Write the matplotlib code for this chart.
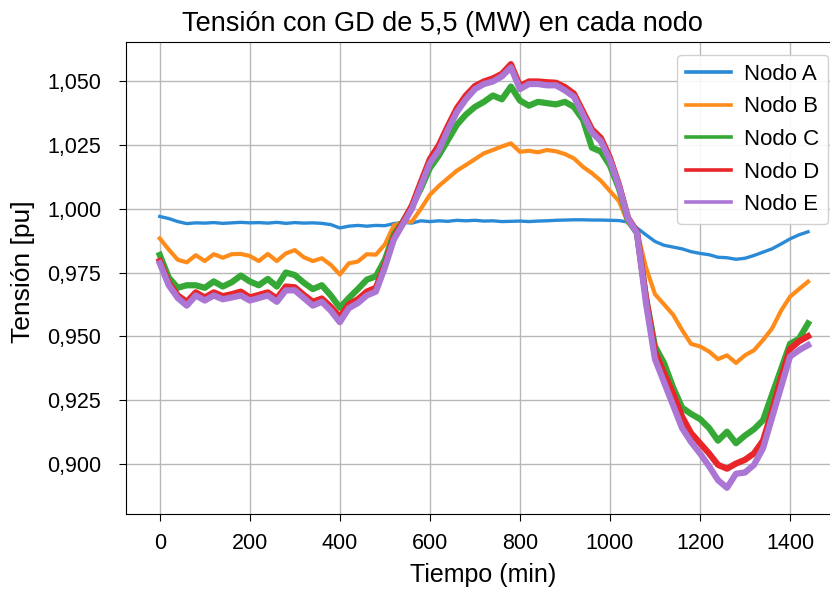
import numpy as np
import matplotlib
matplotlib.use("Agg")
import matplotlib.pyplot as plt
from matplotlib.ticker import FuncFormatter

plt.rcParams["font.family"] = ["Liberation Sans", "DejaVu Sans"]

# sampling grid, minutes
minutes = np.arange(0, 1441, 20)

nodo_a = [
    0.9970, 0.9962, 0.9950, 0.9942, 0.9945, 0.9944, 0.9946, 0.9943, 0.9945, 0.9947,
    0.9945, 0.9946, 0.9944, 0.9947, 0.9943, 0.9946, 0.9944, 0.9945, 0.9943, 0.9938,
    0.9925, 0.9932, 0.9935, 0.9932, 0.9935, 0.9934, 0.9942, 0.9947, 0.9944, 0.9953,
    0.9950, 0.9953, 0.9951, 0.9955, 0.9953, 0.9955, 0.9952, 0.9953, 0.9950, 0.9951,
    0.9952, 0.9950, 0.9952, 0.9953, 0.9955, 0.9956, 0.9957, 0.9957, 0.9956, 0.9956,
    0.9955, 0.9954, 0.9948, 0.9925, 0.9898, 0.9872, 0.9857, 0.9850, 0.9843, 0.9832,
    0.9825, 0.9820, 0.9810, 0.9808, 0.9802, 0.9806, 0.9817, 0.9830, 0.9843, 0.9862,
    0.9882, 0.9898, 0.9910,
]
nodo_b = [
    0.9884, 0.9840, 0.9800, 0.9790, 0.9818, 0.9795, 0.9822, 0.9808, 0.9822, 0.9823,
    0.9815, 0.9795, 0.9823, 0.9795, 0.9825, 0.9838, 0.9810, 0.9795, 0.9806, 0.9780,
    0.9742, 0.9786, 0.9793, 0.9822, 0.9820, 0.9860, 0.9935, 0.9948, 0.9950, 1.0000,
    1.0055, 1.0090, 1.0120, 1.0150, 1.0172, 1.0195, 1.0218, 1.0231, 1.0245, 1.0257,
    1.0224, 1.0228, 1.0222, 1.0231, 1.0226, 1.0215, 1.0198, 1.0165, 1.0140, 1.0110,
    1.0070, 1.0030, 0.9945, 0.9915, 0.9770, 0.9665, 0.9625, 0.9585, 0.9525, 0.9470,
    0.9460, 0.9440, 0.9410, 0.9425, 0.9395, 0.9425, 0.9445, 0.9485, 0.9530, 0.9600,
    0.9655, 0.9685, 0.9714,
]
nodo_c = [
    0.9819, 0.9730, 0.9690, 0.9700, 0.9700, 0.9690, 0.9715, 0.9695, 0.9712, 0.9738,
    0.9715, 0.9700, 0.9725, 0.9695, 0.9750, 0.9740, 0.9710, 0.9685, 0.9700, 0.9660,
    0.9612, 0.9650, 0.9685, 0.9722, 0.9735, 0.9800, 0.9900, 0.9950, 1.0010, 1.0080,
    1.0160, 1.0210, 1.0270, 1.0330, 1.0370, 1.0400, 1.0420, 1.0445, 1.0430, 1.0480,
    1.0425, 1.0405, 1.0420, 1.0415, 1.0410, 1.0420, 1.0400, 1.0350, 1.0240, 1.0225,
    1.0170, 1.0080, 0.9955, 0.9905, 0.9650, 0.9460, 0.9395, 0.9300, 0.9220, 0.9195,
    0.9175, 0.9140, 0.9090, 0.9125, 0.9080, 0.9110, 0.9135, 0.9170, 0.9270, 0.9370,
    0.9470, 0.9490, 0.9550,
]
nodo_d = [
    0.9795, 0.9710, 0.9660, 0.9635, 0.9672, 0.9652, 0.9672, 0.9657, 0.9665, 0.9675,
    0.9652, 0.9662, 0.9672, 0.9648, 0.9695, 0.9692, 0.9662, 0.9635, 0.9648, 0.9615,
    0.9575, 0.9625, 0.9645, 0.9675, 0.9690, 0.9780, 0.9888, 0.9948, 1.0012, 1.0105,
    1.0195, 1.0250, 1.0325, 1.0395, 1.0445, 1.0482, 1.0500, 1.0512, 1.0530, 1.0568,
    1.0482, 1.0500, 1.0500, 1.0497, 1.0495, 1.0478, 1.0452, 1.0382, 1.0312, 1.0278,
    1.0200, 1.0095, 0.9965, 0.9910, 0.9650, 0.9440, 0.9355, 0.9275, 0.9185, 0.9120,
    0.9080, 0.9040, 0.8995, 0.8980, 0.9000, 0.9015, 0.9040, 0.9090, 0.9205, 0.9335,
    0.9450, 0.9480, 0.9500,
]
nodo_e = [
    0.9786, 0.9700, 0.9650, 0.9620, 0.9660, 0.9640, 0.9660, 0.9645, 0.9652, 0.9660,
    0.9640, 0.9650, 0.9660, 0.9635, 0.9680, 0.9680, 0.9650, 0.9620, 0.9635, 0.9600,
    0.9555, 0.9610, 0.9630, 0.9660, 0.9675, 0.9770, 0.9880, 0.9940, 1.0000, 1.0090,
    1.0180, 1.0230, 1.0310, 1.0380, 1.0430, 1.0470, 1.0490, 1.0500, 1.0520, 1.0555,
    1.0470, 1.0490, 1.0490, 1.0485, 1.0485, 1.0465, 1.0440, 1.0370, 1.0300, 1.0265,
    1.0190, 1.0090, 0.9962, 0.9905, 0.9630, 0.9410, 0.9320, 0.9230, 0.9140, 0.9085,
    0.9040, 0.8990, 0.8935, 0.8905, 0.8960, 0.8965, 0.8995, 0.9060, 0.9180, 0.9300,
    0.9420, 0.9445, 0.9465,
]

series = [nodo_a, nodo_b, nodo_c, nodo_d, nodo_e]
labels = ["Nodo A", "Nodo B", "Nodo C", "Nodo D", "Nodo E"]
colors = ["#2a8ad6", "#ff8c1a", "#35a835", "#e8262a", "#ab76d4"]
widths = [2.4, 3.0, 4.5, 4.5, 4.5]

fig = plt.figure(figsize=(8.3, 5.9), dpi=100)
# right spine sits past the canvas edge, as in the cropped original
ax = fig.add_axes([126 / 830, 76 / 590, 714 / 830, 472 / 590])

for vals, lab, col, lw in zip(series, labels, colors, widths):
    ax.plot(minutes, vals, color=col, lw=lw, label=lab, solid_joinstyle="round")

ax.set_xlim(-75, 1511)
ax.set_ylim(0.8802, 1.0655)
ax.set_xticks([0, 200, 400, 600, 800, 1000, 1200, 1400])
ax.set_yticks([0.900, 0.925, 0.950, 0.975, 1.000, 1.025, 1.050])
ax.yaxis.set_major_formatter(FuncFormatter(lambda v, _: f"{v:.3f}".replace(".", ",")))
ax.tick_params(labelsize=15.5, length=5)
ax.tick_params(axis="y", pad=13)
ax.tick_params(axis="x", pad=9)
ax.grid(True, color="#b8b8b8", lw=1.0)
ax.set_axisbelow(True)

ax.set_title("Tensión con GD de 5,5 (MW) en cada nodo", fontsize=19.5, pad=8, x=0.4426)
ax.set_xlabel("Tiempo (min)", fontsize=18, labelpad=6)
ax.set_ylabel("Tensión [pu]", fontsize=19)
ax.yaxis.set_label_coords(-0.128, 0.513)

leg = ax.legend(loc="upper right", bbox_to_anchor=(828 / 830, 535 / 590),
                bbox_transform=fig.transFigure, borderaxespad=0, fontsize=16,
                handlelength=2.0, handletextpad=0.6, labelspacing=0.52,
                framealpha=0.9, edgecolor="#cccccc")
for h in leg.get_lines():
    h.set_linewidth(2.6)

fig.savefig("out.png", dpi=100)
